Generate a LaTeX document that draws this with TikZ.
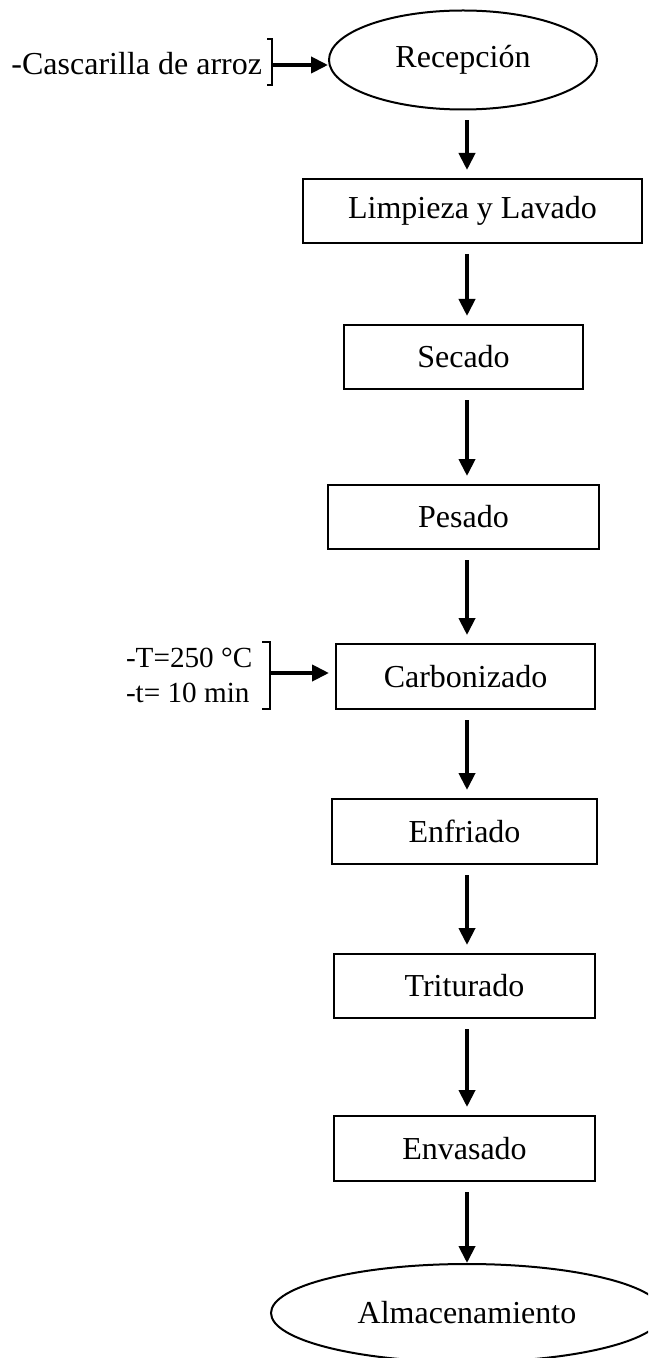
\documentclass[tikz,border=0pt]{standalone}
\usepackage{fontspec}
\setmainfont{Liberation Serif}
\usetikzlibrary{positioning}
\usetikzlibrary{shapes.geometric}
\usetikzlibrary{arrows.meta}

\begin{document}
\begin{tikzpicture}[x=0.5pt,y=-0.5pt]
        \clip (0,0) rectangle (648,1358);
        \coordinate (axis) at (467,0);

        \begin{scope}[every node/.style={font=\fontsize{16}{18.5}\selectfont,line width=1pt,inner sep=0pt,minimum height=32pt}]
            \node[ellipse,draw,minimum width=134pt,minimum height=49.5pt] (recep) at (463,60) {Recepción};
            \node[draw,minimum width=169.5pt] (limp) at (472.5,211) {Limpieza y Lavado};
            \node[draw,minimum width=119.5pt] (sec) at (463.5,357) {Secado};
            \node[draw,minimum width=135.5pt] (pes) at (463.5,517) {Pesado};
            \node[draw,minimum width=129.5pt,minimum height=32.5pt] (carb) at (465.5,676.5) {Carbonizado};
            \node[draw,minimum width=132.5pt,minimum height=32.5pt] (enf) at (464.5,831.5) {Enfriado};
            \node[draw,minimum width=130.5pt] (trit) at (464.5,986) {Triturado};
            \node[draw,minimum width=130.5pt,minimum height=32.5pt] (env) at (464.5,1148.5) {Envasado};
            \node[ellipse,draw,minimum width=196pt,minimum height=49pt] (alm) at (467,1313) {Almacenamiento};

            \node[anchor=east,minimum height=0pt] (casc) at (263,64) {-Cascarilla de arroz};
            \node[anchor=west,align=left,minimum height=0pt,font=\fontsize{14.6}{17.5}\selectfont] (cond) at (125,675.5) {-T=250 °C\\-t= 10 min};
        \end{scope}

        % brackets
        \draw[line width=0.6pt] (267,39) -- (272,39) -- (272,85) -- (267,85);
        \draw[line width=0.6pt] (262,642) -- (270,642) -- (270,709) -- (262,709);
        \coordinate (b1) at (272,65);
        \coordinate (b2) at (270,673);

        \begin{scope}[>={Triangle[length=8.5pt,width=8pt]},
            every edge/.style={draw=black,line width=2pt,shorten <=5pt,shorten >=4pt}]
            \path [->] (recep.south -| axis) edge (limp.north -| axis);
            \path [->] (limp.south -| axis) edge (sec.north -| axis);
            \path [->] (sec.south -| axis) edge (pes.north -| axis);
            \path [->] (pes.south -| axis) edge (carb.north -| axis);
            \path [->] (carb.south -| axis) edge (enf.north -| axis);
            \path [->] (enf.south -| axis) edge (trit.north -| axis);
            \path [->] (trit.south -| axis) edge (env.north -| axis);
            \path [->] (env.south -| axis) edge[shorten >=0pt] (alm.north -| axis);
            \path [->] (b1) edge[shorten <=0pt,shorten >=0pt] (b1 -| recep.west);
            \path [->] (b2) edge[shorten <=0pt,shorten >=3pt] (b2 -| carb.west);
        \end{scope}
    \end{tikzpicture}
\end{document}
